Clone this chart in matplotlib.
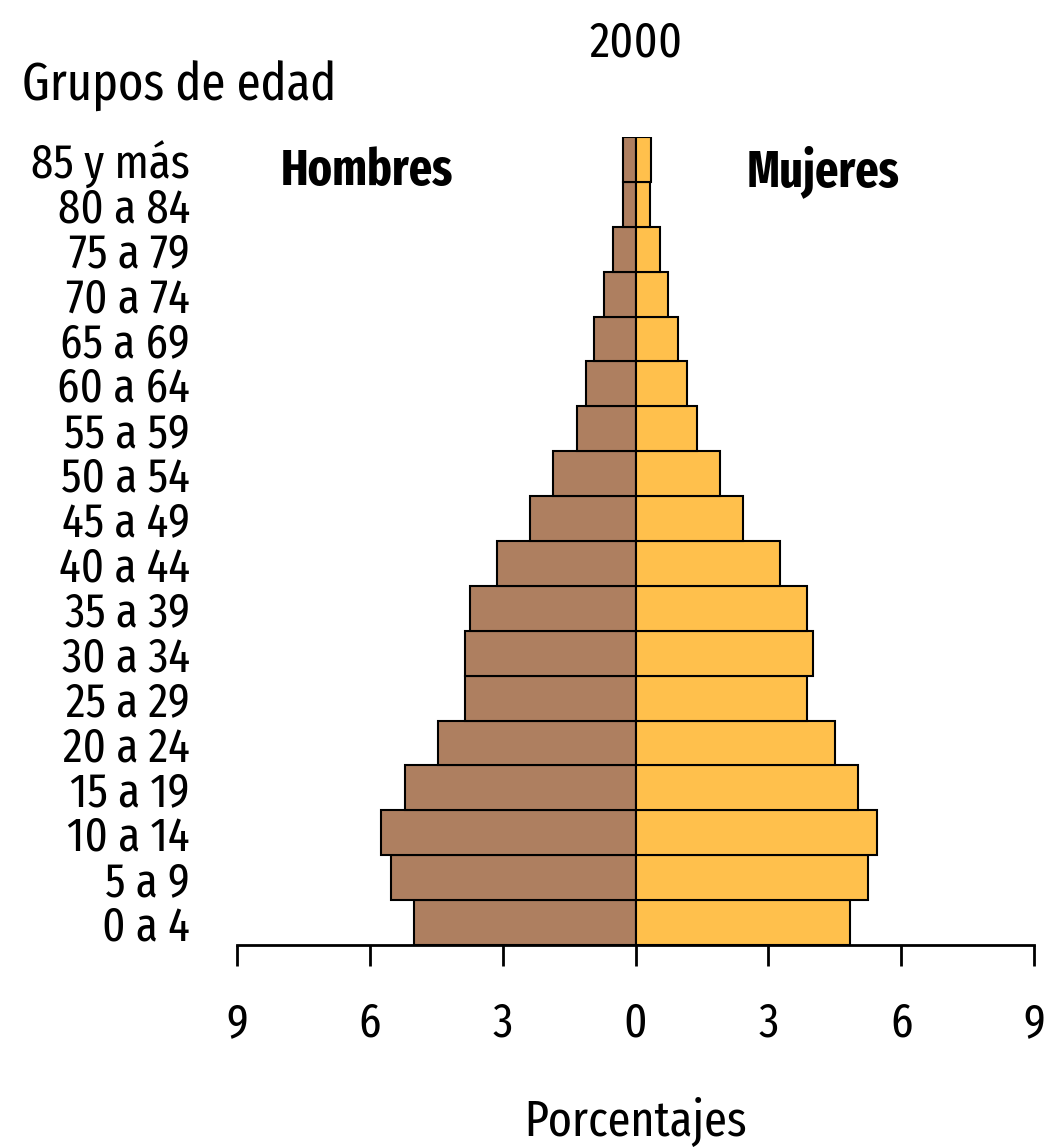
import matplotlib
matplotlib.use("Agg")
import matplotlib.pyplot as plt
from matplotlib import font_manager
from matplotlib.font_manager import FontProperties


def pick_faces():
    # regular and bold file of a condensed family, if installed
    for name in ["Open Sans Condensed", "Fira Sans Extra Condensed", "Fira Sans Condensed"]:
        faces = [f for f in font_manager.fontManager.ttflist
                 if f.name == name and f.style == "normal"]
        if not faces:
            continue
        reg = min(faces, key=lambda f: abs(f.weight - 400))
        bold = min(faces, key=lambda f: abs(f.weight - 700))
        if reg.weight <= 450:
            return FontProperties(fname=reg.fname), FontProperties(fname=bold.fname)
    return FontProperties(family="DejaVu Sans"), FontProperties(family="DejaVu Sans", weight="bold")


grupos = ["0 a 4", "5 a 9", "10 a 14", "15 a 19", "20 a 24", "25 a 29", "30 a 34",
          "35 a 39", "40 a 44", "45 a 49", "50 a 54", "55 a 59", "60 a 64",
          "65 a 69", "70 a 74", "75 a 79", "80 a 84", "85 y más"]
hombres = [5.01, 5.53, 5.76, 5.21, 4.47, 3.86, 3.86, 3.75, 3.12, 2.39, 1.87,
           1.33, 1.13, 0.93, 0.72, 0.50, 0.29, 0.29]
mujeres = [4.83, 5.24, 5.46, 5.03, 4.51, 3.88, 4.00, 3.88, 3.25, 2.42, 1.90,
           1.38, 1.17, 0.95, 0.74, 0.54, 0.32, 0.34]
ticks = [-9, -6, -3, 0, 3, 6, 9]
tick_labels = ["9", "6", "3", "0", "3", "6", "9"]

fp_reg, fp_bold = pick_faces()

fig = plt.figure(figsize=(10.54, 11.48), dpi=100)
ax = fig.add_axes([0.2249, 0.1768, 0.7563, 0.7039])

y = list(range(len(grupos)))
ax.barh(y, [-v for v in hombres], height=1.0, color="#AE7F60", edgecolor="black", linewidth=1.5)
ax.barh(y, mujeres, height=1.0, color="#FFC04C", edgecolor="black", linewidth=1.5)

ax.set_xlim(-9, 9)
ax.set_ylim(-0.5, len(grupos) - 0.5)
ax.set_xticks(ticks)
ax.set_xticklabels(tick_labels, fontproperties=fp_reg, fontsize=35)
ax.set_yticks(y)
ax.set_yticklabels(grupos, fontproperties=fp_reg, fontsize=35)

for s in ["top", "right", "left"]:
    ax.spines[s].set_visible(False)
ax.spines["bottom"].set_linewidth(2)
ax.tick_params(axis="x", length=15, width=2, pad=25)
ax.tick_params(axis="y", length=0, pad=34)

ax.set_xlabel("Porcentajes", fontproperties=fp_reg, fontsize=36, labelpad=36)
ax.set_title("2000", fontproperties=fp_reg, fontsize=36, pad=58)
fig.text(0.021, 0.925, "Grupos de edad", fontproperties=fp_reg, fontsize=38,
         ha="left", va="center")
ax.text(0.163, 0.957, "Hombres", transform=ax.transAxes, fontproperties=fp_bold,
        fontsize=36, ha="center", va="center")
ax.text(0.735, 0.957, "Mujeres", transform=ax.transAxes, fontproperties=fp_bold,
        fontsize=36, ha="center", va="center")

fig.savefig("out.png", dpi=100)
